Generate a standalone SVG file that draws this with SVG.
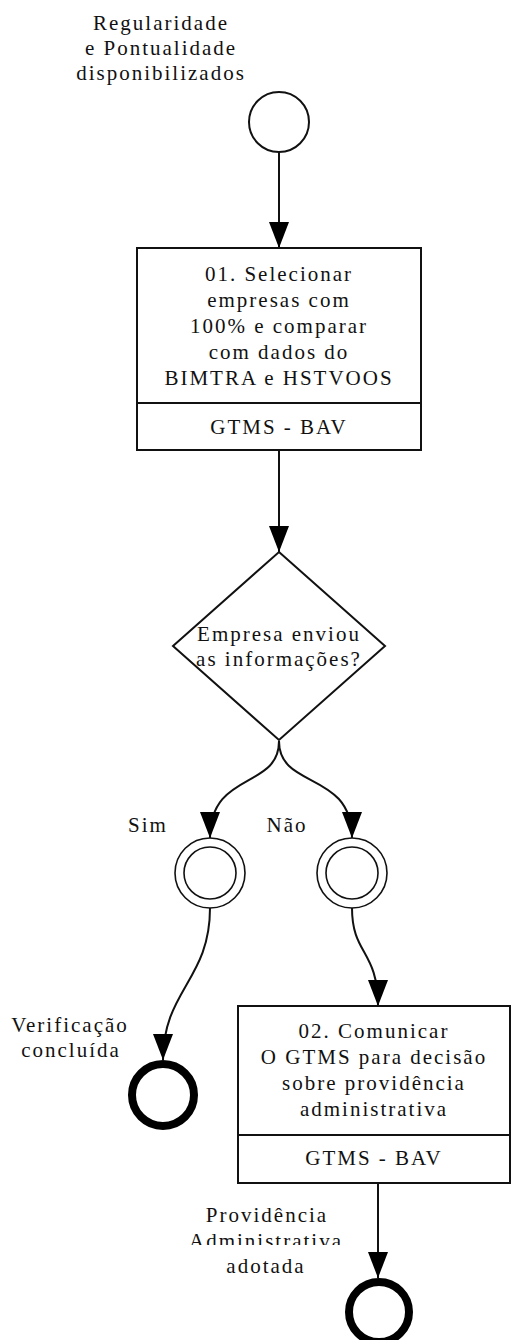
<svg xmlns="http://www.w3.org/2000/svg" width="512" height="1340" viewBox="0 0 512 1340">
  <defs>
    <style>
      text { font-family: "Liberation Serif", "Times New Roman", serif; font-size: 21px; letter-spacing: 2px; fill: #111; text-anchor: middle; }
      .shape { fill: #fff; stroke: #111; stroke-width: 2; }
      .thin { fill: #fff; stroke: #111; stroke-width: 1.6; }
      .end { fill: #fff; stroke: #000; stroke-width: 8; }
      .flow { fill: none; stroke: #111; stroke-width: 2; marker-end: url(#arrow); }
    </style>
    <marker id="arrow" markerUnits="userSpaceOnUse" markerWidth="26" markerHeight="20" refX="26" refY="10" orient="auto" viewBox="0 0 26 20">
      <path d="M0,0 L26,10 L0,20 Z" fill="#000"/>
    </marker>
  </defs>
  <rect width="512" height="1340" fill="#fff"/>

  <!-- sequence flows -->
  <g id="connectors">
    <path class="flow" d="M279,152 L279,248"/>
    <path class="flow" d="M279,450 L279,552"/>
    <path class="flow" d="M279,741 C279,790 210,770 210,838"/>
    <path class="flow" d="M279,741 C279,790 352,770 352,838"/>
    <path class="flow" d="M210,908 C210,980 163,990 163,1060"/>
    <path class="flow" d="M352,908 C352,955 378,950 378,1006"/>
    <path class="flow" d="M378,1183 L378,1278"/>
  </g>

  <!-- start event -->
  <g id="start">
    <text x="161" y="30">Regularidade</text>
    <text x="161" y="55">e Pontualidade</text>
    <text x="161" y="80">disponibilizados</text>
    <circle class="shape" cx="279" cy="122" r="30"/>
  </g>

  <!-- task 01 -->
  <g id="task01">
    <rect class="shape" x="137" y="248" width="284" height="202"/>
    <line class="shape" x1="137" y1="403" x2="421" y2="403"/>
    <text x="279" y="281">01. Selecionar</text>
    <text x="279" y="307">empresas com</text>
    <text x="279" y="333">100% e comparar</text>
    <text x="279" y="359">com dados do</text>
    <text x="279" y="385">BIMTRA e HSTVOOS</text>
    <text x="279" y="434">GTMS - BAV</text>
  </g>

  <!-- exclusive gateway -->
  <g id="gateway">
    <polygon class="shape" points="279,552 385,646 279,740 173,646"/>
    <text x="279" y="641">Empresa enviou</text>
    <text x="279" y="666">as informações?</text>
  </g>

  <!-- intermediate events -->
  <g id="sim">
    <circle class="thin" cx="210" cy="873" r="35"/>
    <circle class="thin" cx="210" cy="873" r="26"/>
    <text x="148" y="832">Sim</text>
  </g>
  <g id="nao">
    <circle class="thin" cx="352" cy="873" r="35"/>
    <circle class="thin" cx="352" cy="873" r="26"/>
    <text x="287" y="832">Não</text>
  </g>

  <!-- end event: verification done -->
  <g id="end-verificacao">
    <text x="70" y="1032">Verificação</text>
    <text x="71" y="1057">concluída</text>
    <circle class="end" cx="163" cy="1095" r="31"/>
  </g>

  <!-- task 02 -->
  <g id="task02">
    <rect class="shape" x="238" y="1006" width="272" height="177"/>
    <line class="shape" x1="238" y1="1135" x2="510" y2="1135"/>
    <text x="374" y="1038">02. Comunicar</text>
    <text x="374" y="1064">O GTMS para decisão</text>
    <text x="374" y="1090">sobre providência</text>
    <text x="374" y="1116">administrativa</text>
    <text x="374" y="1165">GTMS - BAV</text>
  </g>

  <!-- end event: administrative action (last label line sits on a white band that overlaps the line above) -->
  <g id="end-providencia">
    <text x="267" y="1222">Providência</text>
    <text x="266" y="1248">Administrativa</text>
    <rect x="180" y="1245" width="172" height="11" fill="#fff"/>
    <text x="266" y="1273">adotada</text>
    <circle class="end" cx="379" cy="1312" r="30"/>
  </g>
</svg>
